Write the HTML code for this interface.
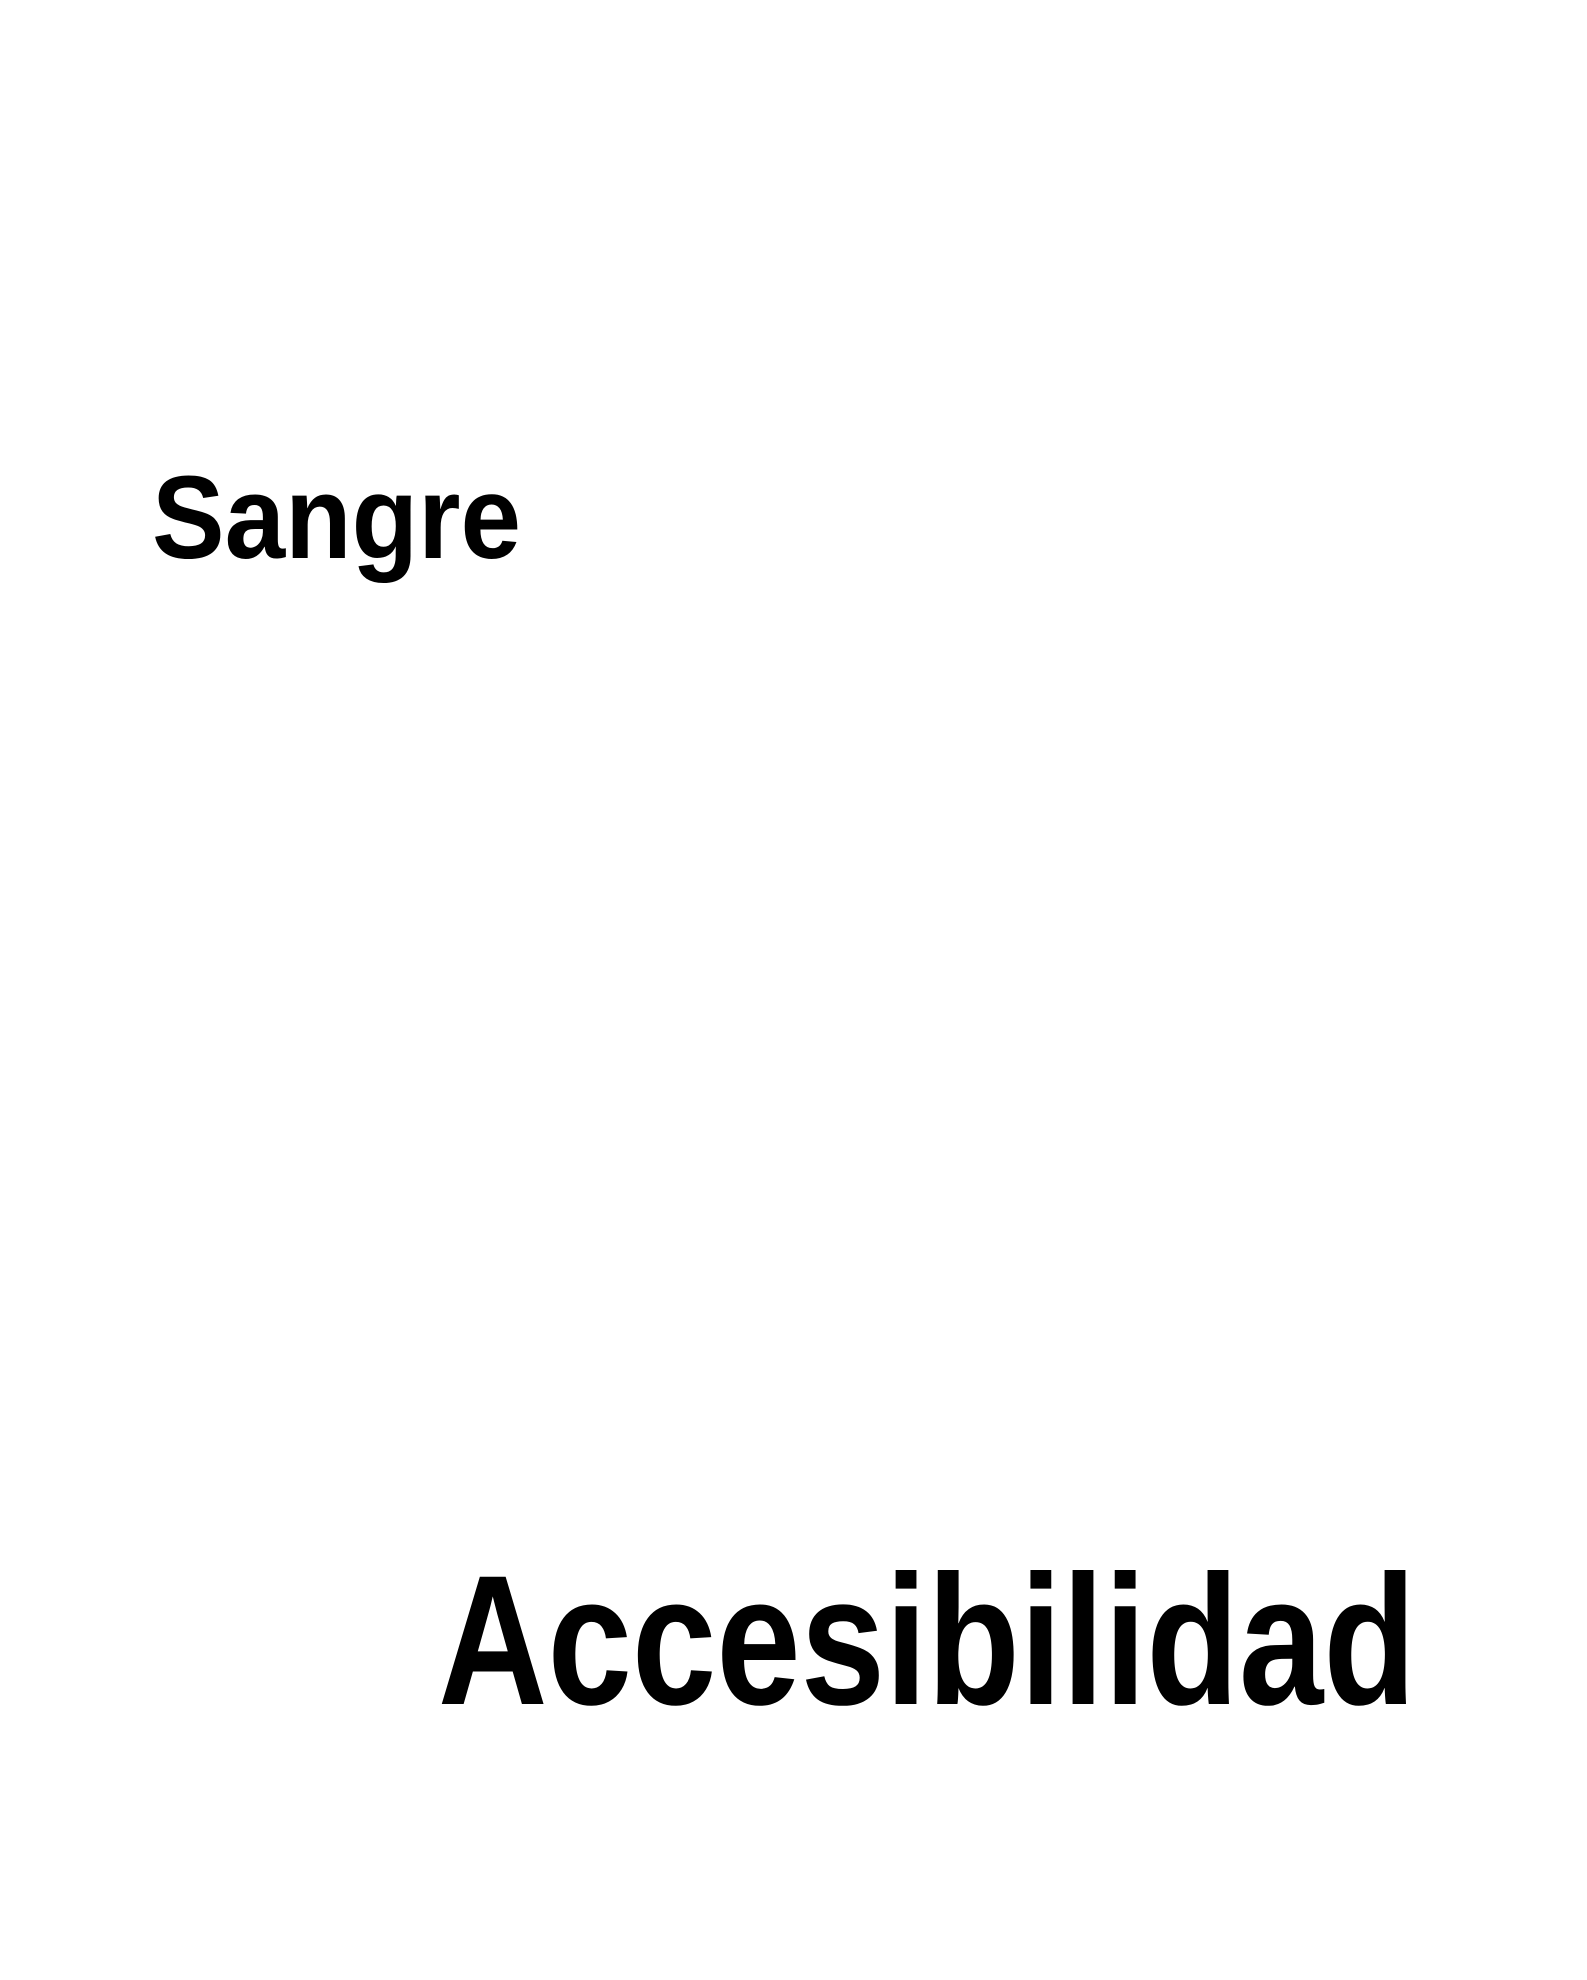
<!DOCTYPE html>
<html>
<head>
<meta charset="utf-8">
<style>
  html,body{margin:0;padding:0;background:#fff;}
  svg{display:block;}
  text{font-family:"Liberation Sans",sans-serif;font-weight:bold;fill:#000;}
</style>
</head>
<body>
<svg width="1587" height="1980" viewBox="0 0 1587 1980">
  <rect width="1587" height="1980" fill="#fff"/>
  <text x="152" y="558" font-size="118" textLength="369" lengthAdjust="spacingAndGlyphs">Sangre</text>
  <text x="438" y="1704" font-size="185" textLength="978" lengthAdjust="spacingAndGlyphs">Accesibilidad</text>
</svg>
</body>
</html>
